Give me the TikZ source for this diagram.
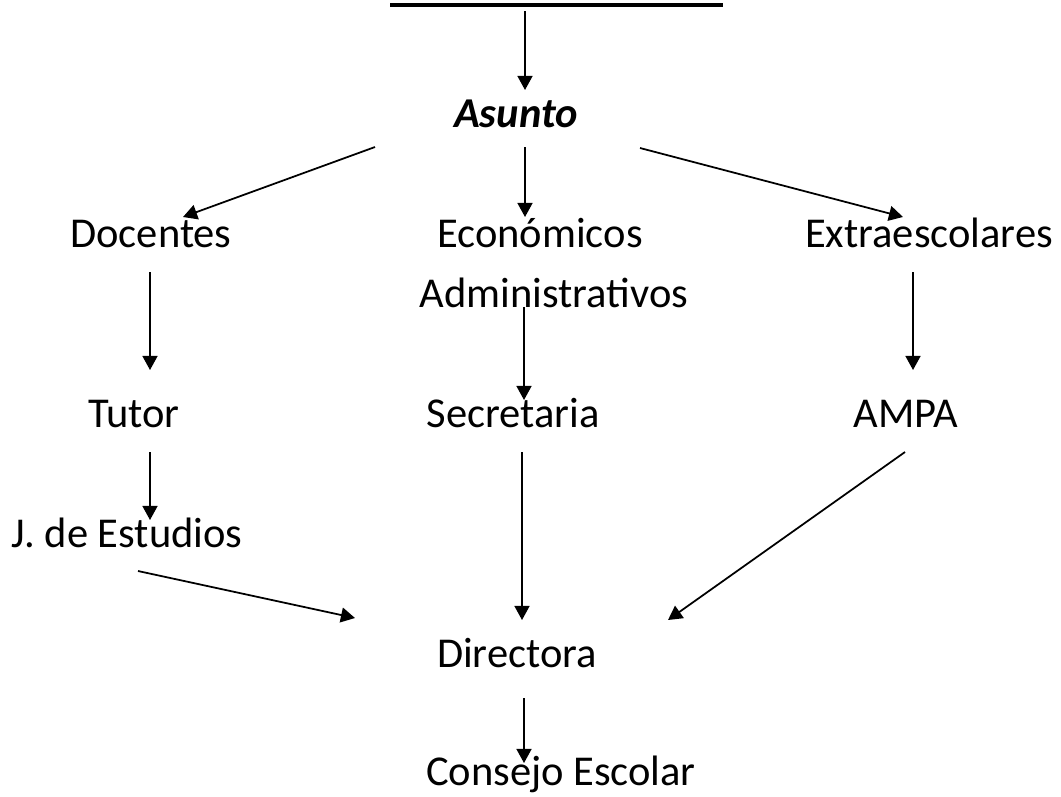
\documentclass[tikz,border=0pt]{standalone}
\usepackage{fontspec}
\setmainfont{Carlito}
\usetikzlibrary{arrows.meta}

\tikzset{
  texto/.style={anchor=base, inner sep=0pt, font=\fontsize{24.2}{29}\selectfont},
  flecha/.style={line width=1pt, -{Triangle[length=8pt, width=8.5pt]}}
}

\begin{document}
\begin{tikzpicture}[x=0.02cm, y=-0.02cm]
		%%%%% START %%%%%
		\useasboundingbox (0, 0) rectangle (1061, 796);
		
		% linea del titulo
		\draw[line width=1.8pt] (390, 5) -- (723, 5);
		\coordinate (titulo) at (525, 11);
		
		\node[texto, font=\fontsize{24.2}{29}\selectfont\bfseries\itshape] (asunto) at (516, 127) {Asunto};
		
		\node[texto] (docentes) at (151, 247) {Docentes};
		\node[texto] (economicos) at (540, 247) {Económicos};
		\node[texto] (administrativos) at (554, 307) {Administrativos};
		\node[texto] (extra) at (929, 247) {Extraescolares};
		
		\node[texto] (tutor) at (134, 427) {Tutor};
		\node[texto] (secretaria) at (513, 427) {Secretaria};
		\node[texto] (ampa) at (906, 427) {AMPA};
		
		\node[texto] (jefatura) at (127, 547) {J. de Estudios};
		
		\node[texto] (directora) at (517, 667) {Directora};
		\node[texto] (consejo) at (561, 785) {Consejo Escolar};
		
		% extremos de las flechas
		\coordinate (a1) at (375, 147);
		\coordinate (a2) at (525, 147);
		\coordinate (a3) at (640, 148);
		\coordinate (d1) at (183, 217);
		\coordinate (e1) at (525, 217);
		\coordinate (x1) at (903, 217);
		
		\coordinate (d2) at (150, 272);
		\coordinate (t1) at (150, 370);
		\coordinate (m2) at (524, 307);
		\coordinate (s1) at (524, 400);
		\coordinate (x2) at (913, 272);
		\coordinate (p1) at (913, 370);
		
		\coordinate (t2) at (150, 452);
		\coordinate (j1) at (150, 520);
		\coordinate (s2) at (522, 452);
		\coordinate (p2) at (905, 452);
		
		\coordinate (j2) at (138, 571);
		\coordinate (r1) at (355, 618);
		\coordinate (r2) at (522, 620);
		\coordinate (r3) at (668, 620);
		
		\coordinate (r4) at (524, 698);
		\coordinate (c1) at (524, 763);
		
		\draw[flecha] (titulo) -- (525, 90);
		\draw[flecha] (a1) -- (d1);
		\draw[flecha] (a2) -- (e1);
		\draw[flecha] (a3) -- (x1);
		
		\draw[flecha] (d2) -- (t1);
		\draw[flecha] (m2) -- (s1);
		\draw[flecha] (x2) -- (p1);
		
		\draw[flecha] (t2) -- (j1);
		\draw[flecha] (s2) -- (r2);
		\draw[flecha] (p2) -- (r3);
		\draw[flecha] (j2) -- (r1);
		
		\draw[flecha] (r4) -- (c1);
		
		%%%%% END %%%%%
\end{tikzpicture}
\end{document}
